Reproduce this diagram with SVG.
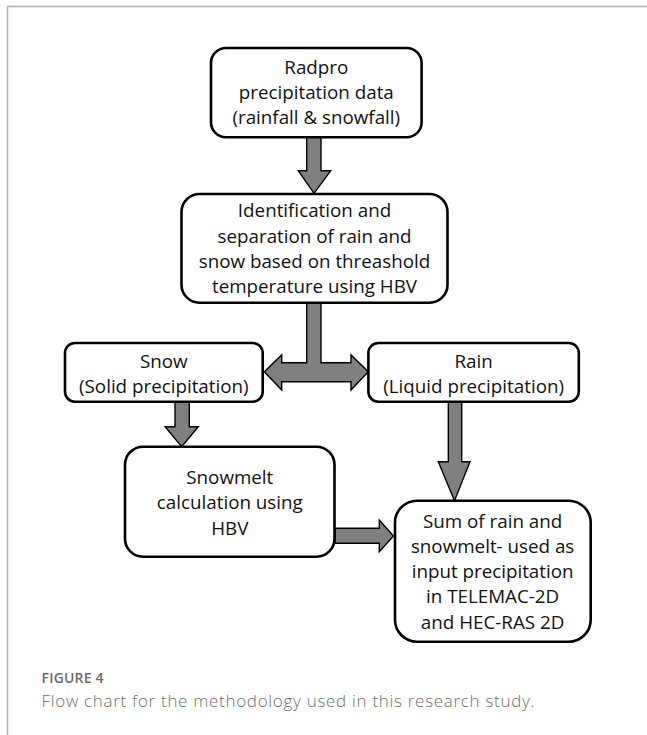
<svg xmlns="http://www.w3.org/2000/svg" width="647" height="735" viewBox="0 0 647 735">
<style>
.box{fill:#fff;stroke:#000;stroke-width:2.6}
.t{font-family:"Open Sans","Liberation Sans",sans-serif;font-size:18.8px;fill:#111;text-anchor:middle}
.arr{fill:#7f7f7f;stroke:#000;stroke-width:1.4;stroke-linejoin:miter}
.cap1{font-family:"Open Sans","Liberation Sans",sans-serif;font-size:14px;font-weight:600;fill:#6b6b6b;letter-spacing:0.2px}
.cap2{font-family:"Open Sans","Liberation Sans",sans-serif;font-size:17px;font-weight:300;fill:#6e6e6e;letter-spacing:0.7px}
</style>
<rect width="647" height="735" fill="#fff"/>
<path d="M7.5 735 V6.5 H647" fill="none" stroke="#b0b0b0" stroke-width="1.5"/>
<g id="connectors">
<path class="arr" d="M306.7 137.3 H321 V170.7 H330.7 L314 193.3 L298.3 170.7 H306.7 Z"/>
<path class="arr" d="M306.7 302.7 H321 V362.7 H351 V355 L368.3 371.7 L351 390 V381.7 H281.7 V390 L264.3 371.7 L281.7 355 V362.7 H306.7 Z"/>
<path class="arr" d="M175 401.7 H189.3 V426.7 H198.3 L181.7 446.7 L165 426.7 H175 Z"/>
<path class="arr" d="M448.3 401.7 H461.7 V461.7 H470 L454.5 500.7 L438.3 461.7 H448.3 Z"/>
<path class="arr" d="M335 528.3 H379.3 V520 L393.5 536 L379.3 551.7 V543.3 H335 Z"/>
</g>
<g id="radpro">
<rect class="box" x="211" y="48" width="210.6" height="89.3" rx="15"/>
<text class="t" x="316.3" y="74">Radpro</text>
<text class="t" x="316.3" y="99">precipitation data</text>
<text class="t" x="316.3" y="124">(rainfall &amp; snowfall)</text>
</g>
<g id="identification">
<rect class="box" x="181.5" y="194" width="266" height="108.7" rx="18"/>
<text class="t" x="314.5" y="217.3">Identification and</text>
<text class="t" x="314.5" y="242.7">separation of rain and</text>
<text class="t" x="314.5" y="267.7">snow based on threashold</text>
<text class="t" x="314.5" y="292.7">temperature using HBV</text>
</g>
<g id="snow">
<rect class="box" x="65" y="343" width="197.7" height="58.7" rx="10"/>
<text class="t" x="163.8" y="368.3">Snow</text>
<text class="t" x="163.8" y="392.7">(Solid precipitation)</text>
</g>
<g id="rain">
<rect class="box" x="368.4" y="343" width="210.4" height="58.7" rx="10"/>
<text class="t" x="473.6" y="368.3">Rain</text>
<text class="t" x="473.6" y="392.7">(Liquid precipitation)</text>
</g>
<g id="snowmelt">
<rect class="box" x="125" y="446.7" width="209.5" height="110" rx="18"/>
<text class="t" x="229.8" y="484">Snowmelt</text>
<text class="t" x="229.8" y="509.3">calculation using</text>
<text class="t" x="229.8" y="535">HBV</text>
</g>
<g id="sum">
<rect class="box" x="395" y="500.7" width="195.7" height="141" rx="22"/>
<text class="t" x="492.6" y="527.7">Sum of rain and</text>
<text class="t" x="492.6" y="553.3">snowmelt- used as</text>
<text class="t" x="492.6" y="578.3">input precipitation</text>
<text class="t" x="492.6" y="603.3">in TELEMAC-2D</text>
<text class="t" x="492.6" y="629">and HEC-RAS 2D</text>
</g>
<g id="caption">
<text class="cap1" x="41.5" y="683">FIGURE 4</text>
<text class="cap2" x="41.5" y="707">Flow chart for the methodology used in this research study.</text>
</g>
</svg>
